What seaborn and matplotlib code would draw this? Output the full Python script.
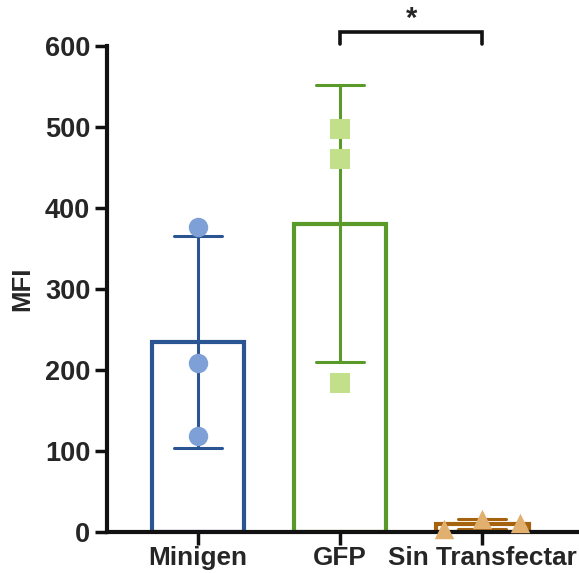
import numpy as np
import pandas as pd
import seaborn as sns
from matplotlib import pyplot as plt

# data
groups = ["Minigen", "GFP", "Sin Transfectar"]
minigen_mfi = [376, 209, 119]
gfp_mfi = [497, 460, 184]
sin_transfectar_mfi = [4, 16, 11]
replicate = ["r1", "r2", "r3"]

edge_colors = ["#2B5592", "#5A9A2A", "#A5620F"]
point_colors = ["#7FA0D6", "#C2E08A", "#E2B06E"]
markers = ["o", "s", "^"]

y_ticks = [0, 100, 200, 300, 400, 500, 600]

df = pd.DataFrame({
    "group": np.repeat(groups, 3),
    "rep": replicate * 3,
    "MFI": minigen_mfi + gfp_mfi + sin_transfectar_mfi,
})

sns.set_style("ticks")
plt.rcParams["font.family"] = ["Liberation Sans", "DejaVu Sans"]
plt.rcParams["font.weight"] = "bold"

W, H = 579, 573
fig = plt.figure(figsize=(W / 100, H / 100), dpi=100)
ax = fig.add_axes([107 / W, 1 - 532 / H, (W - 107) / W, 486 / H])

for g, ec, pc, m in zip(groups, edge_colors, point_colors, markers):
    sub = df[df["group"] == g]
    sns.barplot(
        data=sub, x="group", y="MFI", order=groups,
        errorbar="sd", capsize=0.34, width=0.65,
        fill=False, color=ec, linewidth=3,
        err_kws={"color": ec, "linewidth": 2.2},
        ax=ax, zorder=2,
    )
    # near-zero group: spread replicates side by side like the original
    spread = g == "Sin Transfectar"
    sns.stripplot(
        data=sub, x="group", y="MFI", order=groups,
        hue="rep" if spread else None, dodge=spread, jitter=False,
        palette=[pc] * 3 if spread else None,
        color=None if spread else pc,
        marker=m, size=14, linewidth=0, legend=False,
        ax=ax, zorder=5, clip_on=False,
    )

ax.set_xlim(-0.64, 2.68)
ax.set_ylim(0, 600)
ax.set_yticks(y_ticks)
ax.set_xlabel("")
ax.set_ylabel("MFI", fontsize=18.5, fontweight="bold", labelpad=8)
ax.tick_params(axis="y", labelsize=19.5, width=2.5, length=9,
               color="#111111", pad=3)
ax.tick_params(axis="x", labelsize=18.8, width=2.5, length=9,
               color="#111111", pad=1)
for lab in ax.get_xticklabels() + ax.get_yticklabels():
    lab.set_fontweight("bold")

sns.despine(ax=ax)
for side in ("left", "bottom"):
    ax.spines[side].set_linewidth(3)
    ax.spines[side].set_color("#111111")
    ax.spines[side].set_zorder(3)

# significance bracket between GFP and Sin Transfectar
i1, i2 = groups.index("GFP"), groups.index("Sin Transfectar")
ax.plot([i1, i1, i2, i2], [603, 617, 617, 603], color="#111111", lw=2.6,
        clip_on=False, solid_joinstyle="miter")
ax.text((i1 + i2) / 2, 633, "*", ha="center", va="center",
        fontsize=21, fontweight="bold", clip_on=False)

fig.savefig("out.png", dpi=100)
